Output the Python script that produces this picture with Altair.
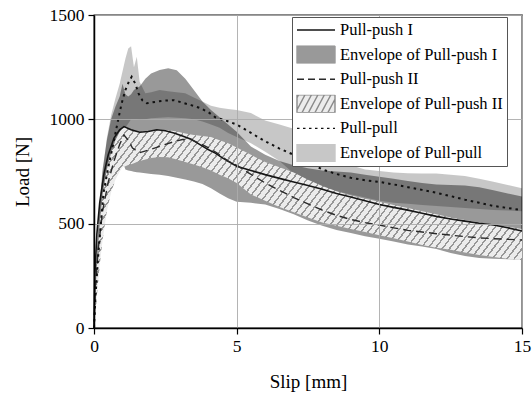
import altair as alt
import pandas as pd

# ---------------- data ----------------
pp1_slip = [0, 0.03, 0.1, 0.2, 0.35, 0.5, 0.7, 0.9, 1.05, 1.3, 1.6, 1.9, 2.2, 2.5, 2.8, 3.1, 3.4, 3.7, 4.0,
            4.25, 4.5, 5.0, 5.5, 6.0, 6.5, 7.0, 7.5, 8.0, 8.5, 9.0, 9.5, 10.0, 10.5, 11.0, 11.5, 12.0, 12.5,
            13.0, 13.5, 14.0, 14.5, 15.0]
pp1_load = [0, 250, 450, 600, 740, 830, 910, 950, 965, 950, 938, 942, 950, 945, 935, 920, 905, 880, 855,
            838, 815, 775, 755, 735, 717, 700, 683, 665, 645, 628, 610, 592, 578, 565, 550, 535, 522,
            512, 502, 494, 480, 465]

pp2_slip = [0, 0.05, 0.15, 0.3, 0.5, 0.7, 0.9, 1.05, 1.2, 1.35, 1.6, 1.9, 2.2, 2.5, 2.8, 3.1, 3.4, 3.7, 4.0,
            4.3, 4.7, 5.0, 5.4, 6.0, 6.5, 7.0, 7.5, 8.0, 8.5, 9.0, 9.5, 10.0, 10.5, 11.0, 11.5, 12.0, 12.5,
            13.0, 13.5, 14.0, 14.5, 15.0]
pp2_load = [0, 200, 380, 560, 700, 800, 880, 925, 900, 862, 840, 852, 866, 880, 893, 903, 903, 885, 865,
            840, 800, 780, 745, 695, 660, 625, 595, 565, 540, 520, 505, 493, 480, 468, 460, 452, 445,
            438, 432, 428, 425, 422]

ppl_slip = [0, 0.05, 0.15, 0.33, 0.5, 0.68, 0.85, 0.97, 1.1, 1.22, 1.32, 1.45, 1.56, 1.7, 1.85, 2.2, 2.5,
            2.8, 3.1, 3.4, 3.7, 4.0, 4.25, 4.6, 5.0, 5.5, 6.0, 6.5, 7.0, 7.5, 8.0, 8.5, 9.0, 9.5, 10.0,
            10.5, 11.0, 11.5, 12.0, 12.5, 13.0, 13.5, 14.0, 14.5, 15.0]
ppl_load = [0, 150, 350, 645, 770, 885, 1000, 1077, 1140, 1180, 1204, 1170, 1124, 1090, 1077, 1085, 1090,
            1092, 1080, 1068, 1055, 1035, 1010, 995, 975, 935, 895, 860, 830, 795, 760, 738, 720, 708, 700,
            688, 675, 662, 648, 632, 615, 600, 585, 575, 565]

env_slip = [0, 0.05, 0.1, 0.2, 0.3, 0.45, 0.6, 0.75, 0.9, 1.0, 1.1, 1.2, 1.3, 1.4, 1.5, 1.6, 1.8, 2.0, 2.3,
            2.6, 2.9, 3.2, 3.5, 3.8, 4.1, 4.4, 4.7, 5.0, 5.5, 6.0, 6.5, 7.0, 7.5, 8.0, 8.5, 9.0, 9.5, 10.0,
            10.5, 11.0, 11.5, 12.0, 12.5, 13.0, 13.5, 14.0, 14.5, 15.0]
ppl_env_hi = [0, 200, 350, 580, 740, 910, 1020, 1100, 1170, 1230, 1290, 1340, 1350, 1250, 1300, 1180, 1125,
              1130, 1140, 1135, 1130, 1125, 1105, 1085, 1065, 1055, 1050, 1045, 1030, 995, 975, 955, 900,
              850, 810, 780, 760, 752, 745, 742, 741, 741, 735, 728, 715, 701, 685, 670]
ppl_env_lo = [0, 80, 200, 380, 520, 680, 780, 850, 900, 930, 960, 980, 1000, 1000, 1000, 997, 1000, 1005,
              1008, 1010, 1008, 1005, 1000, 990, 975, 960, 935, 915, 885, 845, 800, 740, 700, 675, 655, 640,
              625, 610, 600, 595, 590, 585, 580, 575, 570, 566, 563, 560]
pp1_env_hi = [0, 220, 380, 600, 760, 900, 1000, 1060, 1110, 1170, 1120, 1110, 1120, 1140, 1150, 1157, 1195,
              1220, 1237, 1245, 1235, 1195, 1140, 1085, 1045, 1010, 975, 940, 870, 830, 800, 780, 765, 755,
              750, 745, 735, 725, 715, 705, 695, 688, 685, 683, 675, 660, 645, 630]
pp1_env_lo = [0, 120, 250, 450, 580, 690, 740, 755, 760, 800, 760, 755, 752, 749, 747, 745, 742, 738, 734,
              728, 720, 712, 702, 690, 670, 645, 622, 605, 600, 592, 570, 545, 515, 490, 470, 455, 440, 428,
              415, 400, 390, 378, 360, 345, 335, 332, 330, 328]
pp2_env_hi = [0, 150, 300, 500, 640, 760, 840, 900, 940, 958, 962, 955, 948, 943, 940, 940, 943, 947, 950,
              948, 942, 932, 925, 920, 915, 900, 885, 865, 830, 795, 770, 745, 710, 680, 655, 635, 620, 605,
              590, 575, 560, 545, 530, 518, 505, 495, 485, 475]
pp2_env_lo = [0, 50, 150, 300, 420, 560, 650, 710, 750, 770, 775, 781, 785, 790, 795, 800, 808, 815, 820,
              818, 808, 795, 783, 770, 755, 735, 718, 695, 640, 610, 580, 555, 530, 505, 490, 475, 460, 445,
              430, 415, 398, 385, 375, 362, 350, 340, 332, 326]

legend_labels = ["Pull-push I", "Envelope of Pull-push I", "Pull-push II",
                 "Envelope of Pull-push II", "Pull-pull", "Envelope of Pull-pull"]
x_ticks = [0, 5, 10, 15]
y_ticks = [0, 500, 1000, 1500]

# ---------------- tables ----------------
env = pd.DataFrame({"slip": env_slip, "ppl_hi": ppl_env_hi, "ppl_lo": ppl_env_lo,
                    "p1_hi": pp1_env_hi, "p1_lo": pp1_env_lo, "p2_hi": pp2_env_hi, "p2_lo": pp2_env_lo})
l1 = pd.DataFrame({"slip": pp1_slip, "load": pp1_load})
l2 = pd.DataFrame({"slip": pp2_slip, "load": pp2_load})
l3 = pd.DataFrame({"slip": ppl_slip, "load": ppl_load})
leg = pd.DataFrame({"entry": legend_labels})

FONT = "Liberation Serif"
xs = alt.Scale(domain=[0, 15], nice=False)
ys = alt.Scale(domain=[0, 1500], nice=False)

# hatch pattern as a striped linear gradient
N = 80
stops = []
for i in range(N):
    stops += [{"offset": i / N, "color": "#ececec"},
              {"offset": (i + 0.74) / N, "color": "#ececec"},
              {"offset": (i + 0.74) / N, "color": "#979797"},
              {"offset": (i + 1) / N, "color": "#979797"}]
hatch = {"gradient": "linear", "x1": 0, "y1": 0, "x2": 1.2, "y2": 0.432, "stops": stops}

axis_style = dict(labelFont=FONT, labelFontSize=17.5, labelColor="black",
                  titleFont=FONT, titleFontSize=19, titleFontWeight="normal", titleColor="black",
                  domainColor="black", domainWidth=1.5, tickColor="black", tickSize=6, tickWidth=1.2,
                  gridColor="#ababab", gridWidth=0.9, zindex=1)

xenc = alt.X("slip:Q", scale=xs,
             axis=alt.Axis(title="Slip [mm]", values=x_ticks, format="d", labelPadding=3,
                           titlePadding=18, labelFlush=False, **axis_style))
base_y_axis = alt.Axis(title="Load [N]", values=y_ticks, format="d", labelPadding=4,
                       titlePadding=17, **axis_style)

env_ppl = alt.Chart(env).mark_area(color="black", opacity=0.22).encode(
    x=xenc, y=alt.Y("ppl_hi:Q", scale=ys, axis=base_y_axis), y2="ppl_lo:Q")
env_p1 = alt.Chart(env).mark_area(color="black", opacity=0.40).encode(
    x="slip:Q", y="p1_hi:Q", y2="p1_lo:Q")
env_p2 = alt.Chart(env).mark_area(fill=hatch).encode(
    x="slip:Q", y="p2_hi:Q", y2="p2_lo:Q")

line1 = alt.Chart(l1).mark_line(color="#151515", strokeWidth=1.6).encode(x="slip:Q", y="load:Q")
line2 = alt.Chart(l2).mark_line(color="#2a2a2a", strokeWidth=1.4, strokeDash=[8, 5]).encode(
    x="slip:Q", y="load:Q")
line3 = alt.Chart(l3).mark_line(color="#111111", strokeWidth=2, strokeDash=[2.5, 4]).encode(
    x="slip:Q", y="load:Q")

# legend symbols (custom paths)
box = "M-1,-0.47H1V0.47H-1Z"
hl = []
k = 0
while True:
    c = -1.42 + 0.34 * k
    if c >= 1:
        break
    t0 = max(0.0, (-1 - c) / 0.5)
    t1 = min(1.0, (1 - c) / 0.5)
    if t1 > t0:
        xa, ya = c + 0.5 * t0, 0.47 - 0.94 * t0
        xb, yb = c + 0.5 * t1, 0.47 - 0.94 * t1
        hl.append(f"M{xa:.3f},{ya:.3f}L{xb:.3f},{yb:.3f}")
    k += 1
hatch_box = box + "".join(hl)
line_sym = "M-1,0H1"

shapes = [line_sym, box, line_sym, hatch_box, line_sym, box]
fills = ["transparent", "#999999", "transparent", "#ececec", "transparent", "#c7c7c7"]
strokes = ["#151515", "#999999", "#2a2a2a", "#8a8a8a", "#111111", "#c7c7c7"]
dashes = [[1, 0], [1, 0], [7, 4], [1, 0], [2.5, 3.5], [1, 0]]

lg = alt.Legend(title=None, orient="none", legendX=198, legendY=2, zindex=2)
legend_layer = alt.Chart(leg).mark_point(strokeWidth=1.4, opacity=1).encode(
    x=alt.value(-500), y=alt.value(-500),
    shape=alt.Shape("entry:N", scale=alt.Scale(domain=legend_labels, range=shapes), legend=lg),
    fill=alt.Fill("entry:N", scale=alt.Scale(domain=legend_labels, range=fills), legend=lg),
    stroke=alt.Stroke("entry:N", scale=alt.Scale(domain=legend_labels, range=strokes), legend=lg),
    strokeDash=alt.StrokeDash("entry:N", scale=alt.Scale(domain=legend_labels, range=dashes), legend=lg),
)

chart = alt.layer(env_ppl, env_p1, env_p2, line1, line2, line3, legend_layer).properties(
    width=428, height=313,
    autosize=alt.AutoSizeParams(type="none"),
    padding={"left": 94, "top": 15, "right": 10, "bottom": 70},
    background="white",
).configure_view(
    stroke="#111111", strokeWidth=1.3
).configure_axis(
    labelFont=FONT, titleFont=FONT
).configure_legend(
    labelFont=FONT, labelFontSize=16.5, labelColor="black", labelLimit=400,
    symbolSize=1444, symbolStrokeWidth=1.4, clipHeight=18, rowPadding=6.6,
    labelOffset=4, padding=4, fillColor="white", strokeColor="#555555",
)

chart.save("out.html", embed_options={"renderer": "svg", "actions": False})
